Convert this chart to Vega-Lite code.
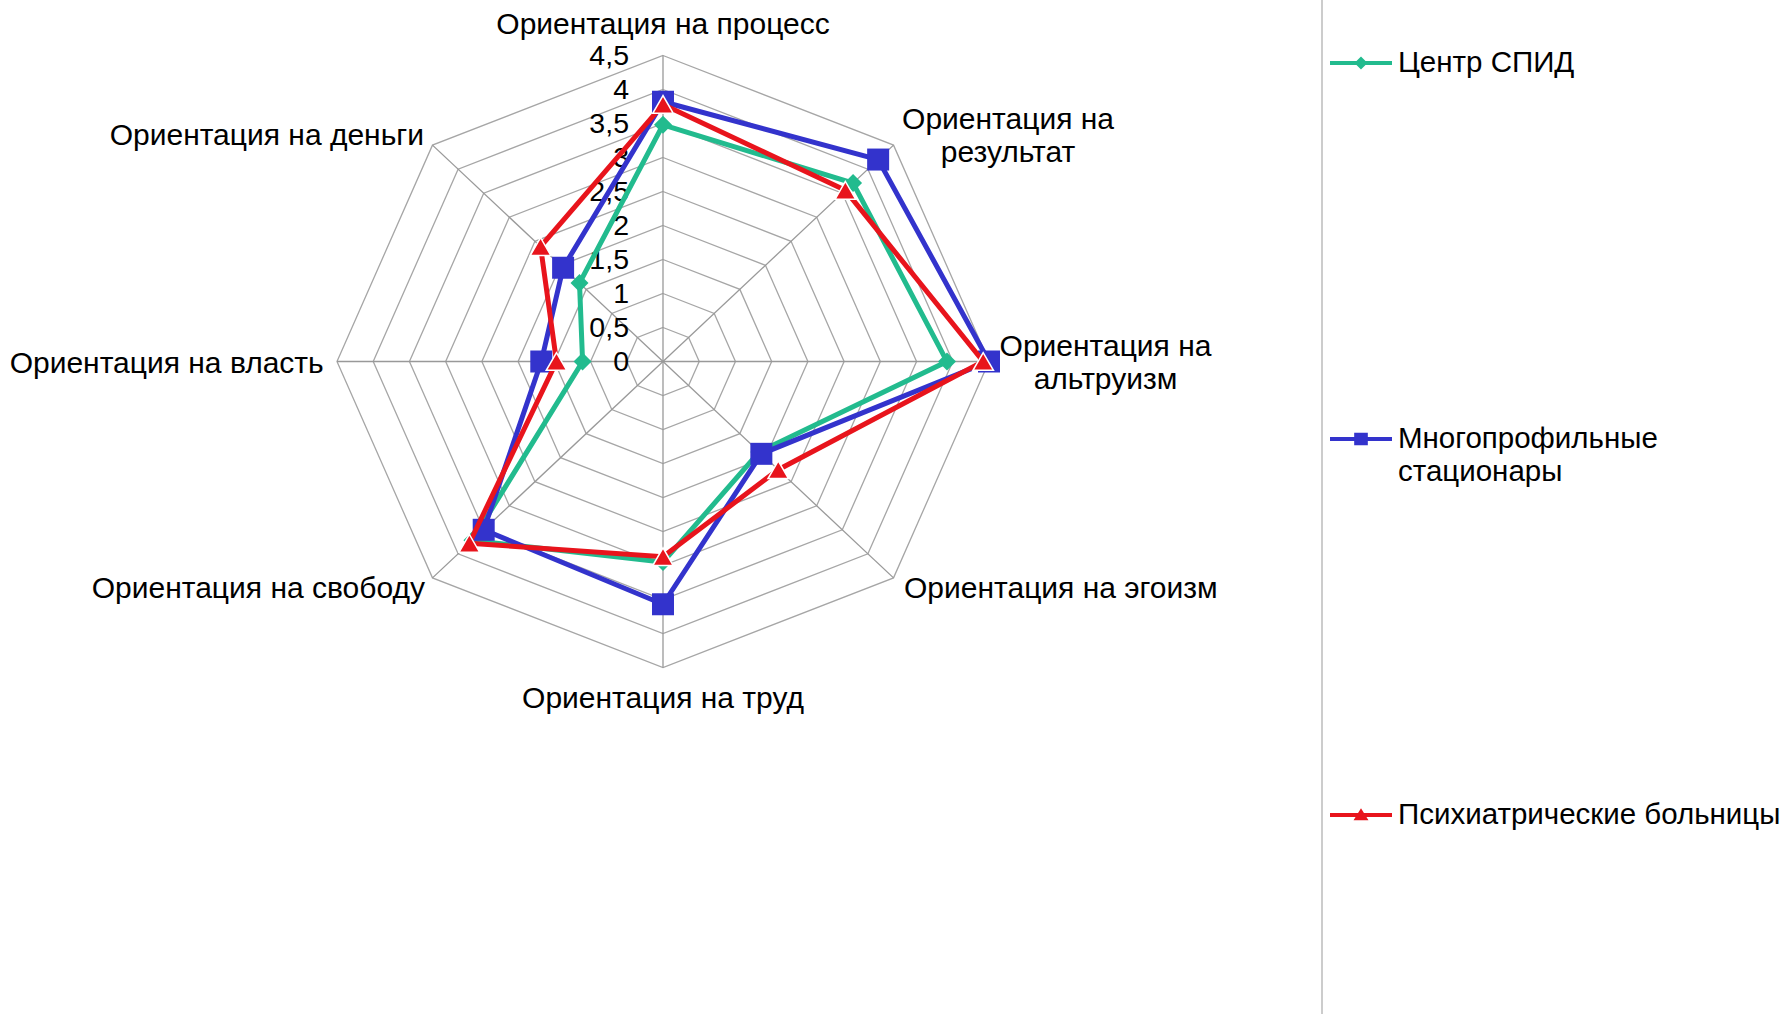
{
  "$schema": "https://vega.github.io/schema/vega-lite/v6.json",
  "width": 1787,
  "height": 1014,
  "autosize": "none",
  "padding": 0,
  "background": "white",
  "config": {
    "view": {"stroke": null},
    "legend": {
      "orient": "none",
      "legendX": 1330,
      "legendY": 32,
      "padding": 0,
      "symbolSize": 3844,
      "symbolStrokeWidth": 0,
      "symbolOpacity": 1,
      "labelFont": "Liberation Sans",
      "labelFontSize": 29.5,
      "labelColor": "#000000",
      "labelOffset": 6,
      "labelLimit": 600,
      "rowPadding": 297,
      "gridAlign": "all"
    }
  },
  "datasets": {
    "axes": [
      {"axis": "Ориентация на процесс", "label": "Ориентация на процесс", "k": 0},
      {"axis": "Ориентация на результат", "label": "Ориентация на\nрезультат", "k": 1},
      {"axis": "Ориентация на альтруизм", "label": "Ориентация на\nальтруизм", "k": 2},
      {"axis": "Ориентация на эгоизм", "label": "Ориентация на эгоизм", "k": 3},
      {"axis": "Ориентация на труд", "label": "Ориентация на труд", "k": 4},
      {"axis": "Ориентация на свободу", "label": "Ориентация на свободу", "k": 5},
      {"axis": "Ориентация на власть", "label": "Ориентация на власть", "k": 6},
      {"axis": "Ориентация на деньги", "label": "Ориентация на деньги", "k": 7}
    ],
    "rings": [
      {"level": 0.5, "ks": [0, 1, 2, 3, 4, 5, 6, 7]},
      {"level": 1, "ks": [0, 1, 2, 3, 4, 5, 6, 7]},
      {"level": 1.5, "ks": [0, 1, 2, 3, 4, 5, 6, 7]},
      {"level": 2, "ks": [0, 1, 2, 3, 4, 5, 6, 7]},
      {"level": 2.5, "ks": [0, 1, 2, 3, 4, 5, 6, 7]},
      {"level": 3, "ks": [0, 1, 2, 3, 4, 5, 6, 7]},
      {"level": 3.5, "ks": [0, 1, 2, 3, 4, 5, 6, 7]},
      {"level": 4, "ks": [0, 1, 2, 3, 4, 5, 6, 7]},
      {"level": 4.5, "ks": [0, 1, 2, 3, 4, 5, 6, 7]}
    ],
    "ticks": [
      {"v": 0, "lbl": "0"},
      {"v": 0.5, "lbl": "0,5"},
      {"v": 1, "lbl": "1"},
      {"v": 1.5, "lbl": "1,5"},
      {"v": 2, "lbl": "2"},
      {"v": 2.5, "lbl": "2,5"},
      {"v": 3, "lbl": "3"},
      {"v": 3.5, "lbl": "3,5"},
      {"v": 4, "lbl": "4"},
      {"v": 4.5, "lbl": "4,5"}
    ],
    "scores": [
      {"series": "Центр СПИД", "axis": "Ориентация на процесс", "value": 3.48},
      {"series": "Центр СПИД", "axis": "Ориентация на результат", "value": 3.71},
      {"series": "Центр СПИД", "axis": "Ориентация на альтруизм", "value": 3.92},
      {"series": "Центр СПИД", "axis": "Ориентация на эгоизм", "value": 1.88},
      {"series": "Центр СПИД", "axis": "Ориентация на труд", "value": 2.95},
      {"series": "Центр СПИД", "axis": "Ориентация на свободу", "value": 3.72},
      {"series": "Центр СПИД", "axis": "Ориентация на власть", "value": 1.11},
      {"series": "Центр СПИД", "axis": "Ориентация на деньги", "value": 1.63},
      {"series": "Многопрофильные стационары", "axis": "Ориентация на процесс", "value": 3.82},
      {"series": "Многопрофильные стационары", "axis": "Ориентация на результат", "value": 4.2},
      {"series": "Многопрофильные стационары", "axis": "Ориентация на альтруизм", "value": 4.5},
      {"series": "Многопрофильные стационары", "axis": "Ориентация на эгоизм", "value": 1.92},
      {"series": "Многопрофильные стационары", "axis": "Ориентация на труд", "value": 3.57},
      {"series": "Многопрофильные стационары", "axis": "Ориентация на свободу", "value": 3.5},
      {"series": "Многопрофильные стационары", "axis": "Ориентация на власть", "value": 1.68},
      {"series": "Многопрофильные стационары", "axis": "Ориентация на деньги", "value": 1.95},
      {"series": "Психиатрические больницы", "axis": "Ориентация на процесс", "value": 3.78},
      {"series": "Психиатрические больницы", "axis": "Ориентация на результат", "value": 3.56},
      {"series": "Психиатрические больницы", "axis": "Ориентация на альтруизм", "value": 4.42},
      {"series": "Психиатрические больницы", "axis": "Ориентация на эгоизм", "value": 2.25},
      {"series": "Психиатрические больницы", "axis": "Ориентация на труд", "value": 2.87},
      {"series": "Психиатрические больницы", "axis": "Ориентация на свободу", "value": 3.78},
      {"series": "Психиатрические больницы", "axis": "Ориентация на власть", "value": 1.47},
      {"series": "Психиатрические больницы", "axis": "Ориентация на деньги", "value": 2.39}
    ]
  },
  "layer": [
    {
      "data": {"name": "rings"},
      "transform": [
        {"flatten": ["ks"], "as": ["k"]},
        {"calculate": "datum.level * sin(datum.k * PI / 4)", "as": "x"},
        {"calculate": "datum.level * cos(datum.k * PI / 4)", "as": "y"}
      ],
      "mark": {"type": "line", "interpolate": "linear-closed", "color": "#A6A6A6", "strokeWidth": 1.3},
      "encoding": {
        "x": {"field": "x", "type": "quantitative", "scale": {"domain": [-9.15184, 15.51534], "nice": false, "zero": false}, "axis": null},
        "y": {"field": "y", "type": "quantitative", "scale": {"domain": [-9.59559, 5.31618], "nice": false, "zero": false}, "axis": null},
        "detail": {"field": "level", "type": "nominal"},
        "order": {"field": "k", "type": "quantitative"}
      }
    },
    {
      "data": {"name": "axes"},
      "transform": [
        {"calculate": "4.5 * sin(datum.k * PI / 4)", "as": "x"},
        {"calculate": "4.5 * cos(datum.k * PI / 4)", "as": "y"}
      ],
      "mark": {"type": "rule", "color": "#999999", "strokeWidth": 1.3},
      "encoding": {
        "x": {"field": "x", "type": "quantitative", "scale": {"domain": [-9.15184, 15.51534], "nice": false, "zero": false}, "axis": null},
        "y": {"field": "y", "type": "quantitative", "scale": {"domain": [-9.59559, 5.31618], "nice": false, "zero": false}, "axis": null},
        "x2": {"datum": 0},
        "y2": {"datum": 0}
      }
    },
    {
      "data": {"values": [{"edge": "plot area"}]},
      "mark": {"type": "rule", "color": "#BBBBBB", "strokeWidth": 1.5},
      "encoding": {
        "x": {"datum": 9.09663, "type": "quantitative", "scale": {"domain": [-9.15184, 15.51534], "nice": false, "zero": false}, "axis": null},
        "y": {"datum": 5.31618, "type": "quantitative", "scale": {"domain": [-9.59559, 5.31618], "nice": false, "zero": false}, "axis": null},
        "y2": {"datum": -9.59559}
      }
    },
    {
      "data": {"name": "ticks"},
      "mark": {"type": "text", "align": "right", "baseline": "middle", "dx": -34, "font": "Liberation Sans", "fontSize": 28.5, "color": "#000000"},
      "encoding": {
        "x": {"datum": 0, "type": "quantitative", "scale": {"domain": [-9.15184, 15.51534], "nice": false, "zero": false}, "axis": null},
        "y": {"field": "v", "type": "quantitative", "scale": {"domain": [-9.59559, 5.31618], "nice": false, "zero": false}, "axis": null},
        "text": {"field": "lbl", "type": "nominal"}
      }
    },
    {
      "data": {"name": "axes"},
      "transform": [
        {"filter": "datum.k == 0"},
        {"calculate": "4.5 * sin(datum.k * PI / 4)", "as": "x"},
        {"calculate": "4.5 * cos(datum.k * PI / 4)", "as": "y"}
      ],
      "mark": {"type": "text", "align": "center", "baseline": "alphabetic", "dx": 0, "dy": -21.5, "font": "Liberation Sans", "fontSize": 30, "color": "#000000", "lineBreak": "\n", "lineHeight": 33},
      "encoding": {
        "x": {"field": "x", "type": "quantitative", "scale": {"domain": [-9.15184, 15.51534], "nice": false, "zero": false}, "axis": null},
        "y": {"field": "y", "type": "quantitative", "scale": {"domain": [-9.59559, 5.31618], "nice": false, "zero": false}, "axis": null},
        "text": {"field": "label", "type": "nominal"}
      }
    },
    {
      "data": {"name": "axes"},
      "transform": [
        {"filter": "datum.k == 1"},
        {"calculate": "4.5 * sin(datum.k * PI / 4)", "as": "x"},
        {"calculate": "4.5 * cos(datum.k * PI / 4)", "as": "y"}
      ],
      "mark": {"type": "text", "align": "center", "baseline": "alphabetic", "dx": 114.5, "dy": -16, "font": "Liberation Sans", "fontSize": 30, "color": "#000000", "lineBreak": "\n", "lineHeight": 33},
      "encoding": {
        "x": {"field": "x", "type": "quantitative", "scale": {"domain": [-9.15184, 15.51534], "nice": false, "zero": false}, "axis": null},
        "y": {"field": "y", "type": "quantitative", "scale": {"domain": [-9.59559, 5.31618], "nice": false, "zero": false}, "axis": null},
        "text": {"field": "label", "type": "nominal"}
      }
    },
    {
      "data": {"name": "axes"},
      "transform": [
        {"filter": "datum.k == 2"},
        {"calculate": "4.5 * sin(datum.k * PI / 4)", "as": "x"},
        {"calculate": "4.5 * cos(datum.k * PI / 4)", "as": "y"}
      ],
      "mark": {"type": "text", "align": "center", "baseline": "alphabetic", "dx": 116.5, "dy": -6, "font": "Liberation Sans", "fontSize": 30, "color": "#000000", "lineBreak": "\n", "lineHeight": 33},
      "encoding": {
        "x": {"field": "x", "type": "quantitative", "scale": {"domain": [-9.15184, 15.51534], "nice": false, "zero": false}, "axis": null},
        "y": {"field": "y", "type": "quantitative", "scale": {"domain": [-9.59559, 5.31618], "nice": false, "zero": false}, "axis": null},
        "text": {"field": "label", "type": "nominal"}
      }
    },
    {
      "data": {"name": "axes"},
      "transform": [
        {"filter": "datum.k == 3"},
        {"calculate": "4.5 * sin(datum.k * PI / 4)", "as": "x"},
        {"calculate": "4.5 * cos(datum.k * PI / 4)", "as": "y"}
      ],
      "mark": {"type": "text", "align": "left", "baseline": "alphabetic", "dx": 10.5, "dy": 20, "font": "Liberation Sans", "fontSize": 30, "color": "#000000"},
      "encoding": {
        "x": {"field": "x", "type": "quantitative", "scale": {"domain": [-9.15184, 15.51534], "nice": false, "zero": false}, "axis": null},
        "y": {"field": "y", "type": "quantitative", "scale": {"domain": [-9.59559, 5.31618], "nice": false, "zero": false}, "axis": null},
        "text": {"field": "label", "type": "nominal"}
      }
    },
    {
      "data": {"name": "axes"},
      "transform": [
        {"filter": "datum.k == 4"},
        {"calculate": "4.5 * sin(datum.k * PI / 4)", "as": "x"},
        {"calculate": "4.5 * cos(datum.k * PI / 4)", "as": "y"}
      ],
      "mark": {"type": "text", "align": "center", "baseline": "alphabetic", "dx": 0, "dy": 40, "font": "Liberation Sans", "fontSize": 30, "color": "#000000"},
      "encoding": {
        "x": {"field": "x", "type": "quantitative", "scale": {"domain": [-9.15184, 15.51534], "nice": false, "zero": false}, "axis": null},
        "y": {"field": "y", "type": "quantitative", "scale": {"domain": [-9.59559, 5.31618], "nice": false, "zero": false}, "axis": null},
        "text": {"field": "label", "type": "nominal"}
      }
    },
    {
      "data": {"name": "axes"},
      "transform": [
        {"filter": "datum.k == 5"},
        {"calculate": "4.5 * sin(datum.k * PI / 4)", "as": "x"},
        {"calculate": "4.5 * cos(datum.k * PI / 4)", "as": "y"}
      ],
      "mark": {"type": "text", "align": "right", "baseline": "alphabetic", "dx": -7.5, "dy": 20, "font": "Liberation Sans", "fontSize": 30, "color": "#000000"},
      "encoding": {
        "x": {"field": "x", "type": "quantitative", "scale": {"domain": [-9.15184, 15.51534], "nice": false, "zero": false}, "axis": null},
        "y": {"field": "y", "type": "quantitative", "scale": {"domain": [-9.59559, 5.31618], "nice": false, "zero": false}, "axis": null},
        "text": {"field": "label", "type": "nominal"}
      }
    },
    {
      "data": {"name": "axes"},
      "transform": [
        {"filter": "datum.k == 6"},
        {"calculate": "4.5 * sin(datum.k * PI / 4)", "as": "x"},
        {"calculate": "4.5 * cos(datum.k * PI / 4)", "as": "y"}
      ],
      "mark": {"type": "text", "align": "right", "baseline": "alphabetic", "dx": -13.3, "dy": 11, "font": "Liberation Sans", "fontSize": 30, "color": "#000000"},
      "encoding": {
        "x": {"field": "x", "type": "quantitative", "scale": {"domain": [-9.15184, 15.51534], "nice": false, "zero": false}, "axis": null},
        "y": {"field": "y", "type": "quantitative", "scale": {"domain": [-9.59559, 5.31618], "nice": false, "zero": false}, "axis": null},
        "text": {"field": "label", "type": "nominal"}
      }
    },
    {
      "data": {"name": "axes"},
      "transform": [
        {"filter": "datum.k == 7"},
        {"calculate": "4.5 * sin(datum.k * PI / 4)", "as": "x"},
        {"calculate": "4.5 * cos(datum.k * PI / 4)", "as": "y"}
      ],
      "mark": {"type": "text", "align": "right", "baseline": "alphabetic", "dx": -8.5, "dy": 0, "font": "Liberation Sans", "fontSize": 30, "color": "#000000"},
      "encoding": {
        "x": {"field": "x", "type": "quantitative", "scale": {"domain": [-9.15184, 15.51534], "nice": false, "zero": false}, "axis": null},
        "y": {"field": "y", "type": "quantitative", "scale": {"domain": [-9.59559, 5.31618], "nice": false, "zero": false}, "axis": null},
        "text": {"field": "label", "type": "nominal"}
      }
    },
    {
      "data": {"name": "scores"},
      "transform": [
        {"filter": "datum.series == 'Центр СПИД'"},
        {"lookup": "axis", "from": {"data": {"name": "axes"}, "key": "axis", "fields": ["k"]}},
        {"calculate": "datum.value * sin(datum.k * PI / 4)", "as": "x"},
        {"calculate": "datum.value * cos(datum.k * PI / 4)", "as": "y"}
      ],
      "layer": [
        {
          "mark": {"type": "line", "interpolate": "linear-closed", "color": "#22BB8E", "strokeWidth": 5},
          "encoding": {
            "x": {"field": "x", "type": "quantitative", "scale": {"domain": [-9.15184, 15.51534], "nice": false, "zero": false}, "axis": null},
            "y": {"field": "y", "type": "quantitative", "scale": {"domain": [-9.59559, 5.31618], "nice": false, "zero": false}, "axis": null},
            "order": {"field": "k", "type": "quantitative"}
          }
        },
        {
          "mark": {"type": "point", "shape": "diamond", "filled": true, "size": 324, "color": "#22BB8E", "opacity": 1},
          "encoding": {
            "x": {"field": "x", "type": "quantitative", "scale": {"domain": [-9.15184, 15.51534], "nice": false, "zero": false}, "axis": null},
            "y": {"field": "y", "type": "quantitative", "scale": {"domain": [-9.59559, 5.31618], "nice": false, "zero": false}, "axis": null}
          }
        }
      ]
    },
    {
      "data": {"name": "scores"},
      "transform": [
        {"filter": "datum.series == 'Многопрофильные стационары'"},
        {"lookup": "axis", "from": {"data": {"name": "axes"}, "key": "axis", "fields": ["k"]}},
        {"calculate": "datum.value * sin(datum.k * PI / 4)", "as": "x"},
        {"calculate": "datum.value * cos(datum.k * PI / 4)", "as": "y"}
      ],
      "layer": [
        {
          "mark": {"type": "line", "interpolate": "linear-closed", "color": "#3333CC", "strokeWidth": 5},
          "encoding": {
            "x": {"field": "x", "type": "quantitative", "scale": {"domain": [-9.15184, 15.51534], "nice": false, "zero": false}, "axis": null},
            "y": {"field": "y", "type": "quantitative", "scale": {"domain": [-9.59559, 5.31618], "nice": false, "zero": false}, "axis": null},
            "order": {"field": "k", "type": "quantitative"}
          }
        },
        {
          "mark": {"type": "point", "shape": "square", "filled": true, "size": 484, "color": "#3333CC", "opacity": 1},
          "encoding": {
            "x": {"field": "x", "type": "quantitative", "scale": {"domain": [-9.15184, 15.51534], "nice": false, "zero": false}, "axis": null},
            "y": {"field": "y", "type": "quantitative", "scale": {"domain": [-9.59559, 5.31618], "nice": false, "zero": false}, "axis": null}
          }
        }
      ]
    },
    {
      "data": {"name": "scores"},
      "transform": [
        {"filter": "datum.series == 'Психиатрические больницы'"},
        {"lookup": "axis", "from": {"data": {"name": "axes"}, "key": "axis", "fields": ["k"]}},
        {"calculate": "datum.value * sin(datum.k * PI / 4)", "as": "x"},
        {"calculate": "datum.value * cos(datum.k * PI / 4)", "as": "y"}
      ],
      "layer": [
        {
          "mark": {"type": "line", "interpolate": "linear-closed", "color": "#E8141C", "strokeWidth": 5},
          "encoding": {
            "x": {"field": "x", "type": "quantitative", "scale": {"domain": [-9.15184, 15.51534], "nice": false, "zero": false}, "axis": null},
            "y": {"field": "y", "type": "quantitative", "scale": {"domain": [-9.59559, 5.31618], "nice": false, "zero": false}, "axis": null},
            "order": {"field": "k", "type": "quantitative"}
          }
        },
        {
          "mark": {"type": "point", "shape": "triangle-up", "filled": true, "size": 420, "fill": "#E8141C", "stroke": "#FFFFFF", "strokeWidth": 1.5, "opacity": 1},
          "encoding": {
            "x": {"field": "x", "type": "quantitative", "scale": {"domain": [-9.15184, 15.51534], "nice": false, "zero": false}, "axis": null},
            "y": {"field": "y", "type": "quantitative", "scale": {"domain": [-9.59559, 5.31618], "nice": false, "zero": false}, "axis": null}
          }
        }
      ]
    },
    {
      "data": {"name": "scores"},
      "transform": [{"filter": "false"}],
      "mark": {"type": "point", "filled": true, "opacity": 1},
      "encoding": {
        "color": {
          "field": "series",
          "type": "nominal",
          "scale": {"domain": ["Центр СПИД", "Многопрофильные стационары", "Психиатрические больницы"], "range": ["#22BB8E", "#3333CC", "#E8141C"]},
          "legend": {
            "title": null,
            "labelExpr": "datum.label == 'Многопрофильные стационары' ? ['Многопрофильные', 'стационары'] : datum.label",
            "encode": {"labels": {"update": {"lineHeight": {"value": 33}}}}
          }
        },
        "shape": {
          "field": "series",
          "type": "nominal",
          "scale": {
            "domain": ["Центр СПИД", "Многопрофильные стационары", "Психиатрические больницы"],
            "range": [
              "M-1,-0.065H1V0.065H-1ZM0,-0.21L0.21,0L0,0.21L-0.21,0Z",
              "M-1,-0.065H1V0.065H-1ZM-0.22,-0.2H0.22V0.2H-0.22Z",
              "M-1,-0.065H1V0.065H-1ZM0,-0.22L0.24,0.17L-0.24,0.17Z"
            ]
          },
          "legend": {"title": null}
        }
      }
    }
  ]
}
